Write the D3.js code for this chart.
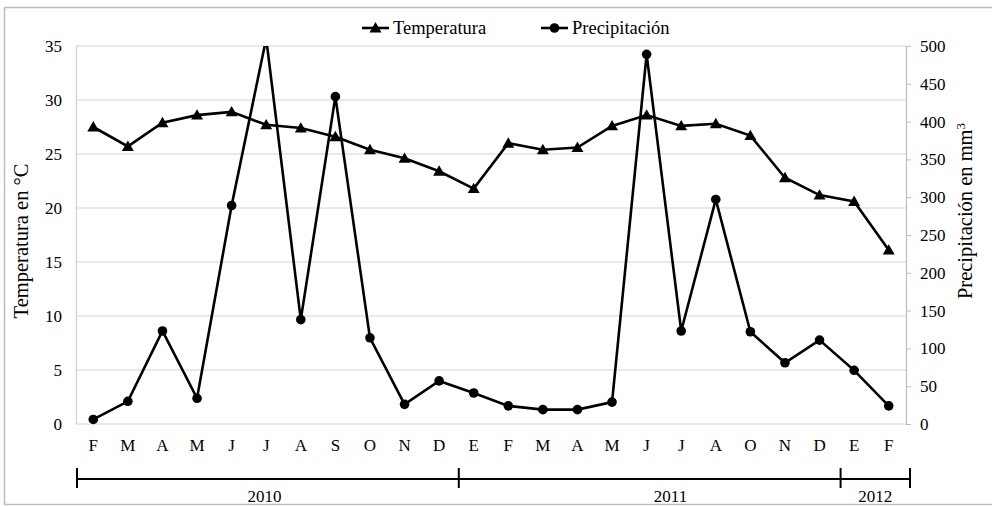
<!DOCTYPE html>
<html>
<head>
<meta charset="utf-8">
<script src="https://cdn.jsdelivr.net/npm/d3@7"></script>
<style>
  body { margin: 0; background: #fff; }
  svg text { font-family: "Liberation Serif", "Times New Roman", serif; fill: #000; }
</style>
</head>
<body>
<div id="chart"></div>
<script>
// months shown under the x axis (2011 has no September)
const months = ['F', 'M', 'A', 'M', 'J', 'J', 'A', 'S', 'O', 'N', 'D',
                'E', 'F', 'M', 'A', 'M', 'J', 'J', 'A', 'O', 'N', 'D',
                'E', 'F'];
// temperatura en °C
const temperatura = [27.5, 25.7, 27.9, 28.6, 28.9, 27.7, 27.4, 26.6, 25.4, 24.6, 23.4,
                     21.8, 26.0, 25.4, 25.6, 27.6, 28.6, 27.6, 27.8, 26.7, 22.8, 21.2,
                     20.6, 16.1];
// precipitación en mm3 (July 2010 runs off the top of the chart)
const precipitacion = [6, 30, 123, 34, 289, 510, 138, 433, 114, 26, 57,
                       41, 24, 19, 19, 29, 489, 123, 297, 122, 81, 111,
                       71, 24];
const tempTicks = [0, 5, 10, 15, 20, 25, 30, 35];
const precTicks = [0, 50, 100, 150, 200, 250, 300, 350, 400, 450, 500];
// year brackets in month-index units, with where the label sits
const years = [
  { label: '2010', from: 0, to: 11, at: 5.4 },
  { label: '2011', from: 11, to: 22, at: 17.1 },
  { label: '2012', from: 22, to: 24, at: 23.0 }
];

const W = 992, H = 506;
const margin = { top: 46, right: 86, bottom: 82, left: 76 };
const plotW = W - margin.left - margin.right;
const plotH = H - margin.top - margin.bottom;

const svg = d3.select('#chart').append('svg')
  .attr('width', W).attr('height', H);

// outer frame
svg.append('rect')
  .attr('x', 4.5).attr('y', 7.5).attr('width', 1000).attr('height', 497)
  .attr('fill', 'none').attr('stroke', '#bdbdbd').attr('stroke-width', 1.5);

const g = svg.append('g').attr('transform', `translate(${margin.left},${margin.top})`);

const x = d3.scaleBand().domain(d3.range(months.length)).range([0, plotW]);
const yT = d3.scaleLinear().domain([0, 35]).range([plotH, 0]);
const yP = d3.scaleLinear().domain([0, 500]).range([plotH, 0]);
const cx = i => x(i) + x.bandwidth() / 2;

svg.append('defs').append('clipPath').attr('id', 'plotclip')
  .append('rect').attr('x', -10).attr('y', 0).attr('width', plotW + 20).attr('height', plotH + 10);

// gridlines
g.append('g').selectAll('line').data(tempTicks).enter().append('line')
  .attr('x1', 0).attr('x2', plotW)
  .attr('y1', d => yT(d)).attr('y2', d => yT(d))
  .attr('stroke', '#d4d4d4').attr('stroke-width', 1.2);

// left axis
const leftAxis = g.append('g').call(d3.axisLeft(yT).tickValues(tempTicks).tickSize(0).tickPadding(14));
leftAxis.attr('font-family', null);
leftAxis.select('.domain').attr('stroke', '#cfcfcf').attr('stroke-width', 1.2);
leftAxis.selectAll('text').attr('font-size', 17);

// right axis
const rightAxis = g.append('g').attr('transform', `translate(${plotW},0)`)
  .call(d3.axisRight(yP).tickValues(precTicks).tickSize(5).tickPadding(9));
rightAxis.attr('font-family', null);
rightAxis.select('.domain').attr('stroke', '#bdbdbd').attr('stroke-width', 1.2);
rightAxis.selectAll('.tick line').attr('stroke', '#bdbdbd');
rightAxis.selectAll('text').attr('font-size', 17);

// month labels
g.append('g').selectAll('text').data(months).enter().append('text')
  .attr('x', (d, i) => cx(i)).attr('y', plotH + 27)
  .attr('text-anchor', 'middle').attr('font-size', 17)
  .text(d => d);

// year brackets
const xb = d3.scaleLinear().domain([0, months.length]).range([1, plotW + 4]);
const bracketY = plotH + 55;
const bracket = g.append('g');
bracket.append('line')
  .attr('x1', xb(0)).attr('x2', xb(months.length))
  .attr('y1', bracketY).attr('y2', bracketY)
  .attr('stroke', '#000').attr('stroke-width', 2);
const cuts = [0].concat(years.map(d => d.to));
bracket.selectAll('.cut').data(cuts).enter().append('line')
  .attr('x1', d => xb(d)).attr('x2', d => xb(d))
  .attr('y1', bracketY - 11).attr('y2', bracketY + 9)
  .attr('stroke', '#000').attr('stroke-width', 2);
bracket.selectAll('text').data(years).enter().append('text')
  .attr('x', d => xb(d.at)).attr('y', bracketY + 23)
  .attr('text-anchor', 'middle').attr('font-size', 17)
  .text(d => d.label);

// series
const lineT = d3.line().x((d, i) => cx(i)).y(d => yT(d));
const lineP = d3.line().x((d, i) => cx(i)).y(d => yP(d));
const tri = d3.symbol().type(d3.symbolTriangle).size(62);

const series = g.append('g').attr('clip-path', 'url(#plotclip)');

series.append('path').datum(precipitacion)
  .attr('d', lineP).attr('fill', 'none')
  .attr('stroke', '#000').attr('stroke-width', 2.6).attr('stroke-linejoin', 'miter');
// points above the axis maximum are cut off, so no marker there
const precPts = precipitacion.map((v, i) => ({ v, i })).filter(d => d.v <= 500);
series.selectAll('.dotP').data(precPts).enter().append('circle')
  .attr('cx', d => cx(d.i)).attr('cy', d => yP(d.v))
  .attr('r', 4.8).attr('fill', '#000');

series.append('path').datum(temperatura)
  .attr('d', lineT).attr('fill', 'none')
  .attr('stroke', '#000').attr('stroke-width', 2.6);
series.selectAll('.dotT').data(temperatura).enter().append('path')
  .attr('d', tri)
  .attr('transform', (d, i) => `translate(${cx(i)},${yT(d) + 1})`)
  .attr('fill', '#000');

// axis titles
svg.append('text')
  .attr('transform', `translate(28,${margin.top + plotH / 2 + 6}) rotate(-90)`)
  .attr('text-anchor', 'middle').attr('font-size', 20.5)
  .text('Temperatura en °C');
const rt = svg.append('text')
  .attr('transform', `translate(972,${margin.top + plotH / 2 - 24}) rotate(-90)`)
  .attr('text-anchor', 'middle').attr('font-size', 20.5);
rt.append('tspan').text('Precipitación en mm');
rt.append('tspan').attr('baseline-shift', 'super').attr('font-size', 13).text('3');

// legend
const legend = svg.append('g');
const legendItems = [
  { name: 'Temperatura', x0: 362, marker: 'tri' },
  { name: 'Precipitación', x0: 541, marker: 'dot' }
];
legendItems.forEach(it => {
  const lg = legend.append('g').attr('transform', `translate(${it.x0},28)`);
  lg.append('line').attr('x1', 0).attr('x2', 27).attr('y1', 0).attr('y2', 0)
    .attr('stroke', '#000').attr('stroke-width', 2.6);
  if (it.marker === 'tri') {
    lg.append('path').attr('d', tri).attr('transform', 'translate(13.5,1)').attr('fill', '#000');
  } else {
    lg.append('circle').attr('cx', 13.5).attr('cy', 0).attr('r', 4.8).attr('fill', '#000');
  }
  lg.append('text').attr('x', 31).attr('y', 6).attr('font-size', 18.5).text(it.name);
});
</script>
</body>
</html>
